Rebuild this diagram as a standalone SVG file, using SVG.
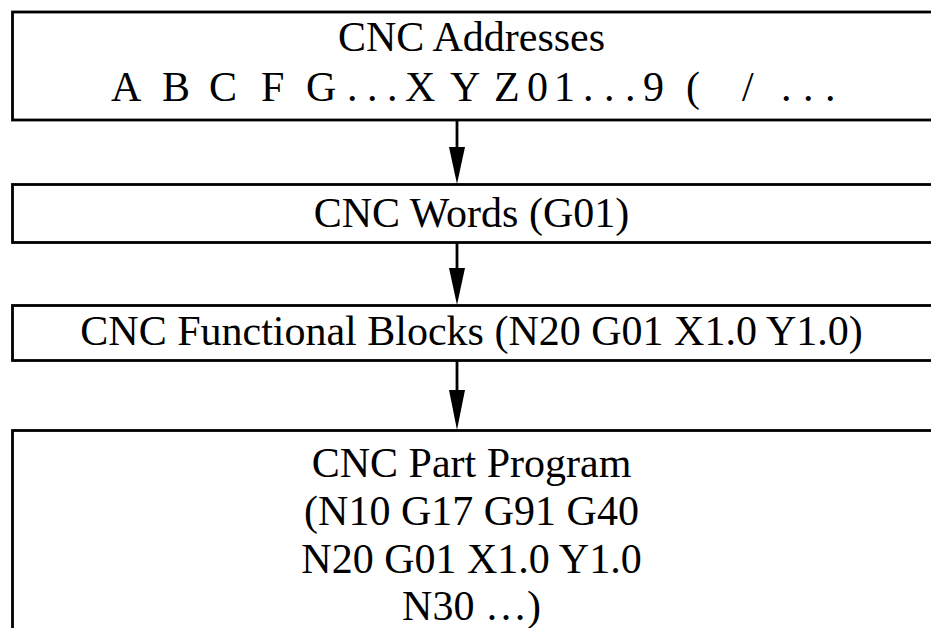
<svg xmlns="http://www.w3.org/2000/svg" width="931" height="628" viewBox="0 0 931 628">
<style>
.box{fill:#fff;stroke:#000;stroke-width:2.8}
.t{font-family:"Liberation Serif","Times New Roman",serif;font-size:42px;fill:#000}
.c{text-anchor:middle}
.ln{stroke:#000;stroke-width:2.8;fill:none}
</style>
<rect width="931" height="628" fill="#fff"/>
<g id="connectors">
<line class="ln" x1="457" y1="121" x2="457" y2="150"/>
<polygon points="449,147 465,147 457,184"/>
<line class="ln" x1="457" y1="242" x2="457" y2="270"/>
<polygon points="449,268 465,268 457,305"/>
<line class="ln" x1="457" y1="361" x2="457" y2="392"/>
<polygon points="449,390 465,390 457,430"/>
</g>
<g id="addresses">
<rect class="box" x="12.5" y="12" width="930" height="108"/>
<text class="t c" x="471.5" y="51">CNC Addresses</text>
<text class="t" y="101"><tspan x="111">A</tspan><tspan x="162">B</tspan><tspan x="209">C</tspan><tspan x="261">F</tspan><tspan x="306">G</tspan><tspan x="347">.</tspan><tspan x="367">.</tspan><tspan x="387">.</tspan><tspan x="405">X</tspan><tspan x="450">Y</tspan><tspan x="494">Z</tspan><tspan x="527">0</tspan><tspan x="554">1</tspan><tspan x="583">.</tspan><tspan x="604">.</tspan><tspan x="625">.</tspan><tspan x="643">9</tspan><tspan x="686">(</tspan><tspan x="742">/</tspan><tspan x="781">.</tspan><tspan x="803">.</tspan><tspan x="825">.</tspan></text>
</g>
<g id="words">
<rect class="box" x="12.5" y="184.5" width="930" height="58"/>
<text class="t c" x="471.5" y="227">CNC Words (G01)</text>
</g>
<g id="blocks">
<rect class="box" x="12.5" y="305.5" width="930" height="55"/>
<text class="t c" x="471.5" y="345">CNC Functional Blocks (N20 G01 X1.0 Y1.0)</text>
</g>
<g id="program">
<rect class="box" x="12.5" y="430.5" width="930" height="220"/>
<text class="t c" x="471.5" y="477">CNC Part Program</text>
<text class="t c" x="471.5" y="525">(N10 G17 G91 G40</text>
<text class="t c" x="471.5" y="573">N20 G01 X1.0 Y1.0</text>
<text class="t c" x="471.5" y="620">N30 …)</text>
</g>
</svg>
